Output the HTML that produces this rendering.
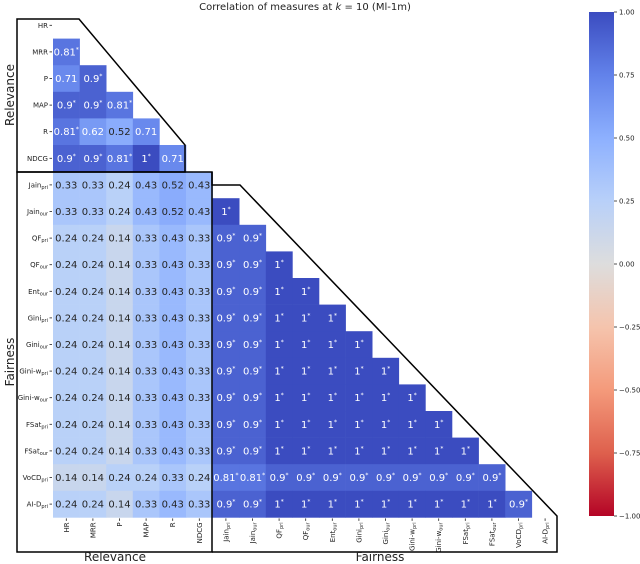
<!DOCTYPE html>
<html><head><meta charset="utf-8"><style>
html,body{margin:0;padding:0;background:#fff;}
svg{display:block;font-family:"DejaVu Sans","Liberation Sans",sans-serif;}
</style></head><body>
<svg id="chart" width="640" height="564" viewBox="0 0 640 564">
<defs><linearGradient id="cbgrad" x1="0" y1="0" x2="0" y2="1">
<stop offset="0" stop-color="#3b4cc0"/><stop offset="0.125" stop-color="#6282ea"/><stop offset="0.25" stop-color="#8db0fe"/><stop offset="0.375" stop-color="#b8d0f9"/><stop offset="0.5" stop-color="#dddddd"/><stop offset="0.625" stop-color="#f5c4ad"/><stop offset="0.75" stop-color="#f49a7b"/><stop offset="0.875" stop-color="#de604d"/><stop offset="1" stop-color="#b40426"/>
</linearGradient></defs>
<text x="305" y="10" font-size="10" text-anchor="middle" fill="#222">Correlation of measures at <tspan font-style="italic">k</tspan> = 10 (Ml-1m)</text>
<g id="cells"></g>
<g id="ylabels"></g>
<g id="xlabels"></g>
<g fill="none" stroke="#000" stroke-width="1.5">
<path d="M17,19 L79,19 L185,145 L185,172 L17,172 Z"/>
<path d="M17,172 L212,172 L212,552 L17,552 Z"/>
<path d="M212,172 L212,185 L240,185 L557,516 L557,552 L212,552"/>
</g>
<text transform="translate(14,95) rotate(-90)" font-size="12" text-anchor="middle" fill="#222">Relevance</text>
<text transform="translate(14,362) rotate(-90)" font-size="12" text-anchor="middle" fill="#222">Fairness</text>
<text x="115" y="561" font-size="12" text-anchor="middle" fill="#222">Relevance</text>
<text x="380" y="561" font-size="12" text-anchor="middle" fill="#222">Fairness</text>
<rect x="589" y="12" width="25" height="504" fill="url(#cbgrad)"/>
<g id="cbticks"></g>
</svg>
<script>
const labels = [["HR",""],["MRR",""],["P",""],["MAP",""],["R",""],["NDCG",""],["Jain","pri"],["Jain","our"],["QF","pri"],["QF","our"],["Ent","our"],["Gini","pri"],["Gini","our"],["Gini-w","pri"],["Gini-w","our"],["FSat","pri"],["FSat","our"],["VoCD","pri"],["AI-D","pri"]];
const rowValues = [
 [],
 [0.81],
 [0.71,0.9],
 [0.9,0.9,0.81],
 [0.81,0.62,0.52,0.71],
 [0.9,0.9,0.81,1,0.71],
 [0.33,0.33,0.24,0.43,0.52,0.43],
 [0.33,0.33,0.24,0.43,0.52,0.43,1],
 [0.24,0.24,0.14,0.33,0.43,0.33,0.9,0.9],
 [0.24,0.24,0.14,0.33,0.43,0.33,0.9,0.9,1],
 [0.24,0.24,0.14,0.33,0.43,0.33,0.9,0.9,1,1],
 [0.24,0.24,0.14,0.33,0.43,0.33,0.9,0.9,1,1,1],
 [0.24,0.24,0.14,0.33,0.43,0.33,0.9,0.9,1,1,1,1],
 [0.24,0.24,0.14,0.33,0.43,0.33,0.9,0.9,1,1,1,1,1],
 [0.24,0.24,0.14,0.33,0.43,0.33,0.9,0.9,1,1,1,1,1,1],
 [0.24,0.24,0.14,0.33,0.43,0.33,0.9,0.9,1,1,1,1,1,1,1],
 [0.24,0.24,0.14,0.33,0.43,0.33,0.9,0.9,1,1,1,1,1,1,1,1],
 [0.14,0.14,0.24,0.24,0.33,0.24,0.81,0.81,0.9,0.9,0.9,0.9,0.9,0.9,0.9,0.9,0.9],
 [0.24,0.24,0.14,0.33,0.43,0.33,0.9,0.9,1,1,1,1,1,1,1,1,1,0.9]
];
const significant = [
 [],[1],[0,1],[1,1,1],[1,0,0,0],[1,1,1,1,0],
 [0,0,0,0,0,0],[0,0,0,0,0,0,1],
 [0,0,0,0,0,0,1,1],[0,0,0,0,0,0,1,1,1],[0,0,0,0,0,0,1,1,1,1],
 [0,0,0,0,0,0,1,1,1,1,1],[0,0,0,0,0,0,1,1,1,1,1,1],[0,0,0,0,0,0,1,1,1,1,1,1,1],
 [0,0,0,0,0,0,1,1,1,1,1,1,1,1],[0,0,0,0,0,0,1,1,1,1,1,1,1,1,1],[0,0,0,0,0,0,1,1,1,1,1,1,1,1,1,1],
 [0,0,0,0,0,0,1,1,1,1,1,1,1,1,1,1,1],[0,0,0,0,0,0,1,1,1,1,1,1,1,1,1,1,1,1]
];
const cbTicks = [1,0.75,0.5,0.25,0,-0.25,-0.5,-0.75,-1];

const NS="http://www.w3.org/2000/svg";
const X0=53, Y0=12, CW=26.6, CH=26.6;
const xPos = j => X0 + j*CW;
const yPos = i => Y0 + i*CH;
const cbY = v => 12 + (1-v)/2*504;
const stops=[[59,76,192],[98,130,234],[141,176,254],[184,208,249],[221,221,221],[245,196,173],[244,154,123],[222,96,77],[180,4,38]];
function color(v){
  let t=(1-v)/2*8; let i=Math.min(7,Math.floor(t)); let f=t-i;
  const a=stops[i], b=stops[i+1];
  return "rgb("+a.map((c,k)=>Math.round(c+(b[k]-c)*f)).join(",")+")";
}
function el(tag,attrs,parent){const e=document.createElementNS(NS,tag);for(const k in attrs)e.setAttribute(k,attrs[k]);parent.appendChild(e);return e;}
const cells=document.getElementById("cells");
rowValues.forEach((row,i)=>{
  row.forEach((v,j)=>{
    const r=el("rect",{x:xPos(j),y:yPos(i),width:CW+0.3,height:CH+0.3,fill:color(v)},cells);
    
    
    const t=el("text",{x:xPos(j)+CW/2,y:yPos(i)+CH/2+3.5,"font-size":"10","text-anchor":"middle",fill:v>=0.6?"#fff":"#262626"},cells);
    
    
    t.textContent=String(v);
    if(significant[i][j]){const s=el("tspan",{"font-size":"6",dy:"-4"},t);s.textContent="*";}
  });
});
const yl=document.getElementById("ylabels"), xl=document.getElementById("xlabels");
labels.forEach((lb,i)=>{
  const t=el("text",{x:X0-5,y:yPos(i)+CH/2+2.5,"font-size":"7","text-anchor":"end",fill:"#222"},yl);
  
  
  t.appendChild(document.createTextNode(lb[0]));
  if(lb[1]){const s=el("tspan",{"font-size":"5",dy:"1.5"},t);s.textContent=lb[1];}
  el("line",{x1:X0-3.5,x2:X0-1,y1:yPos(i)+CH/2,y2:yPos(i)+CH/2,stroke:"#222","stroke-width":"0.8"},yl);
  const cx=xPos(i)+CW/2;
  el("line",{x1:cx,x2:cx,y1:Y0+19*CH+1,y2:Y0+19*CH+3.5,stroke:"#222","stroke-width":"0.8"},xl);
  const xt=el("text",{transform:`translate(${cx+2.5},${Y0+19*CH+5}) rotate(-90)`,"font-size":"7","text-anchor":"end",fill:"#222"},xl);
  
  
  xt.appendChild(document.createTextNode(lb[0]));
  if(lb[1]){const s=el("tspan",{"font-size":"5",dy:"1.5"},xt);s.textContent=lb[1];}
});
const cb=document.getElementById("cbticks");
cbTicks.forEach(v=>{
  el("line",{x1:614,x2:617,y1:cbY(v),y2:cbY(v),stroke:"#222","stroke-width":"0.8"},cb);
  const t=el("text",{x:619,y:cbY(v)+2.5,"font-size":"7",fill:"#222"},cb);
  
  
  t.textContent=(v<0?"\u2212":"")+Math.abs(v).toFixed(2);
});
</script>
</body></html>
